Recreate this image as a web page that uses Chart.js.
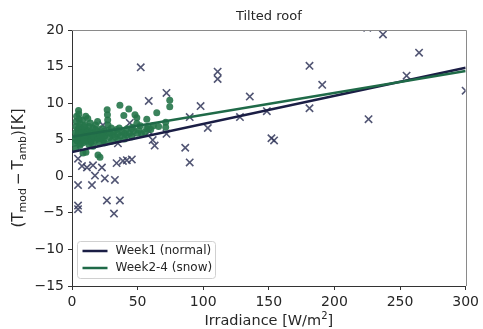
<!DOCTYPE html>
<html>
<head>
<meta charset="utf-8">
<script src="https://cdn.jsdelivr.net/npm/chart.js@4.4.0/dist/chart.umd.min.js"></script>
<style>
  html, body { margin: 0; padding: 0; background: #fff; }
  canvas { display: block; }
</style>
</head>
<body>
<canvas id="roof-chart" width="483" height="329"></canvas>
<script>
// Week 1 (normal) measurements
var week1X = [4.6, 4.6, 4.6, 4.6, 7.6, 11.4, 15.2, 16, 17.5, 22.8,
              23.6, 25, 26.6, 32, 32.7, 34, 35, 36.5, 38.8, 41.8,
              44, 45.6, 45.6, 52.4, 58.5, 59, 61.5, 63, 72, 72,
              86.3, 89.7, 89.7, 98, 103.5, 111, 111, 128, 135.5, 148.5,
              152, 154, 181, 181, 190.7, 225, 226, 237, 255, 264.5, 300];
var week1Y = [2.4, -1.2, -4.0, -4.5, 1.4, 1.2, -1.2, 1.5, 0.1, 1.2,
              7.0, -0.3, -3.3, -5.1, -0.5, 1.8, 4.5, -3.3, 2.1, 2.2,
              7.3, 2.3, 6.0, 14.9, 10.3, 6.1, 4.95, 4.2, 11.4, 5.8,
              3.9, 1.9, 8.1, 9.6, 6.6, 14.3, 13.3, 8.1, 10.9, 8.9,
              5.2, 4.9, 15.1, 9.3, 12.5, 20.3, 7.8, 19.4, 13.75, 16.9, 11.7];

// Weeks 2-4 (snow) measurements
var snowX = [2, 2.5, 2.8, 3, 3.2, 3.5, 4, 4, 4.5, 5,
             5.2, 5.5, 5, 6, 6, 6.5, 7, 7.2, 8, 8,
             8.5, 9, 9.5, 10, 10.5, 10.5, 11, 11.5, 12, 12.5,
             13, 13.5, 14, 14.5, 15, 15.5, 16, 17, 17.5, 18,
             18.5, 19, 19.5, 20, 20.5, 21, 22, 22.5, 23, 24,
             24.5, 25, 26, 26.8, 27, 27.2, 27.4, 28, 28.5, 29,
             30, 31, 32, 33, 34, 35, 36, 36.5, 37, 38,
             39.5, 40, 41.8, 42, 43.3, 44, 45.6, 46, 47, 48,
             49.4, 49.4, 50, 51, 52, 53, 55.5, 57, 57, 58,
             60, 62, 64.6, 66, 71.4, 71.4, 74.5, 74.5, 8.4, 19.8,
             21.3, 10.6, 6, 13, 16, 3, 25, 30, 35, 40,
             3.5, 4.5, 5.5, 6.5, 7.5, 9, 9.5, 11, 12, 13.5,
             15, 16.5, 18, 20, 21.5, 23.5];
var snowY = [4.5, 5.2, 6.0, 6.8, 7.5, 8.2, 5.5, 4.8, 6.4, 9.0,
             8.5, 7.8, 5.9, 7.2, 5.0, 4.4, 6.5, 5.6, 7.7, 5.2,
             4.6, 6.2, 5.8, 7.0, 8.2, 5.3, 4.8, 6.3, 7.9, 5.7,
             6.8, 5.1, 7.3, 4.7, 6.0, 5.4, 6.6, 5.8, 4.9, 7.0,
             5.3, 6.2, 7.5, 5.6, 4.6, 6.0, 5.2, 6.5, 5.8, 4.9,
             6.2, 5.5, 5.9, 9.1, 8.4, 7.7, 7.0, 6.3, 5.3, 5.9,
             6.6, 5.6, 6.1, 5.4, 6.4, 5.8, 6.6, 9.7, 5.5, 6.1,
             8.3, 5.9, 5.6, 6.5, 9.2, 5.9, 5.4, 6.7, 6.2, 8.4,
             8.0, 7.2, 5.9, 6.3, 6.9, 5.8, 6.05, 7.8, 6.5, 6.8,
             6.4, 6.9, 8.7, 6.8, 7.4, 6.7, 10.4, 9.5, 3.2, 2.9,
             2.6, 3.3, 4.2, 4.3, 4.1, 3.8, 4.6, 4.8, 5.0, 5.1,
             5.0, 5.8, 6.8, 5.4, 6.0, 5.0, 6.8, 5.6, 6.1, 5.9,
             5.0, 5.5, 6.4, 5.1, 5.6, 5.4];

// linear fit end points
var week1FitX = [0, 300];
var week1FitY = [3.3, 14.85];
var snowFitX = [0, 300];
var snowFitY = [5.4, 14.4];

var xTicks = [0, 50, 100, 150, 200, 250, 300];
var yTicks = [-15, -10, -5, 0, 5, 10, 15, 20];

function toPoints(xs, ys) {
    return xs.map(function(x, i) { return {x: x, y: ys[i]}; });
}

var FONT = '"DejaVu Sans", sans-serif';
var TEXT = '#262626';

// text with subscripts/superscripts: parts = [[text, shift], ...]
function drawRich(ctx, parts, size, cx, cy) {
    var small = Math.round(size * 0.72);
    var total = 0;
    parts.forEach(function(p) {
        ctx.font = (p[1] ? small : size) + 'px ' + FONT;
        total += ctx.measureText(p[0]).width;
    });
    var x = cx - total / 2;
    parts.forEach(function(p) {
        ctx.font = (p[1] ? small : size) + 'px ' + FONT;
        ctx.fillText(p[0], x, cy + p[1] * size * 0.3);
        x += ctx.measureText(p[0]).width;
    });
}

var decorations = {
    id: 'decorations',
    afterDraw: function(chart) {
        var ctx = chart.ctx, a = chart.chartArea;
        ctx.save();

        // top and right spines
        ctx.strokeStyle = '#8a8a8a';
        ctx.lineWidth = 1;
        ctx.beginPath();
        ctx.moveTo(Math.round(a.left), Math.round(a.top) + 0.5);
        ctx.lineTo(Math.round(a.right) + 0.5, Math.round(a.top) + 0.5);
        ctx.lineTo(Math.round(a.right) + 0.5, Math.round(a.bottom));
        ctx.stroke();

        ctx.fillStyle = TEXT;
        ctx.textBaseline = 'middle';
        ctx.textAlign = 'left';

        // title
        drawRich(ctx, [['Tilted roof', 0]], 13, (a.left + a.right) / 2, 17);

        // x axis label
        drawRich(ctx, [['Irradiance [W/m', 0], ['2', -1], [']', 0]], 14.5, (a.left + a.right) / 2, 321);

        // y axis label
        ctx.save();
        ctx.translate(19, 168);
        ctx.rotate(-Math.PI / 2);
        drawRich(ctx, [['(T', 0], ['mod', 1], ['\u2009\u2212\u2009T', 0], ['amb', 1], [')[K]', 0]], 15, 0, 0);
        ctx.restore();

        // legend in lower left corner
        var lines = chart.data.datasets.filter(function(d) { return d.type === 'line'; });
        var bx = a.left + 5.5, by = a.bottom - 44.5, bw = 138, bh = 37;
        ctx.beginPath();
        ctx.roundRect(bx, by, bw, bh, 3);
        ctx.fillStyle = 'rgba(255,255,255,0.85)';
        ctx.fill();
        ctx.strokeStyle = '#d0d0d0';
        ctx.stroke();
        ctx.font = '12px ' + FONT;
        lines.forEach(function(d, i) {
            var y = by + 9.5 + i * 17;
            ctx.strokeStyle = d.borderColor;
            ctx.lineWidth = 2.5;
            ctx.beginPath();
            ctx.moveTo(bx + 5, y);
            ctx.lineTo(bx + 30, y);
            ctx.stroke();
            ctx.fillStyle = TEXT;
            ctx.fillText(d.label, bx + 38, y);
        });
        ctx.restore();
    }
};

function axis(min, max, ticks, fit) {
    return {
        type: 'linear',
        min: min,
        max: max,
        afterBuildTicks: function(s) {
            s.ticks = ticks.map(function(v) { return {value: v}; });
        },
        afterFit: fit,
        ticks: {
            color: TEXT,
            font: {family: FONT, size: 14},
            padding: 4,
            callback: function(v) { return v < 0 ? '\u2212' + Math.abs(v) : String(v); }
        },
        grid: {drawOnChartArea: false, drawTicks: true, tickLength: 4, color: '#333'},
        border: {color: '#333', width: 1}
    };
}

var roofChart = new Chart(document.getElementById('roof-chart'), {
    data: {
        datasets: [{
            type: 'line',
            label: 'Week1 (normal)',
            data: toPoints(week1FitX, week1FitY),
            borderColor: '#1b1e45',
            borderWidth: 2.5,
            pointRadius: 0,
            order: 1
        }, {
            type: 'line',
            label: 'Week2-4 (snow)',
            data: toPoints(snowFitX, snowFitY),
            borderColor: '#1f6a48',
            borderWidth: 2.5,
            pointRadius: 0,
            order: 0
        }, {
            type: 'scatter',
            label: 'Week1 data',
            data: toPoints(week1X, week1Y),
            pointStyle: 'crossRot',
            pointRadius: 5.2,
            borderWidth: 1.6,
            borderColor: 'rgba(52,56,92,0.85)',
            backgroundColor: 'rgba(52,56,92,0.85)',
            clip: 0,
            order: 3
        }, {
            type: 'scatter',
            label: 'Week2-4 data',
            data: toPoints(snowX, snowY),
            pointStyle: 'circle',
            pointRadius: 3.5,
            borderWidth: 0,
            backgroundColor: 'rgba(38,118,74,0.9)',
            clip: 0,
            order: 2
        }]
    },
    options: {
        responsive: false,
        animation: false,
        layout: {padding: {top: 30, right: 16, left: 0, bottom: 0}},
        plugins: {
            legend: {display: false},
            title: {display: false},
            tooltip: {enabled: false}
        },
        scales: {
            x: axis(0, 300, xTicks, function(s) { s.height = 43; }),
            y: axis(-15, 20, yTicks, function(s) { s.width = 72; })
        }
    },
    plugins: [decorations]
});
</script>
</body>
</html>
